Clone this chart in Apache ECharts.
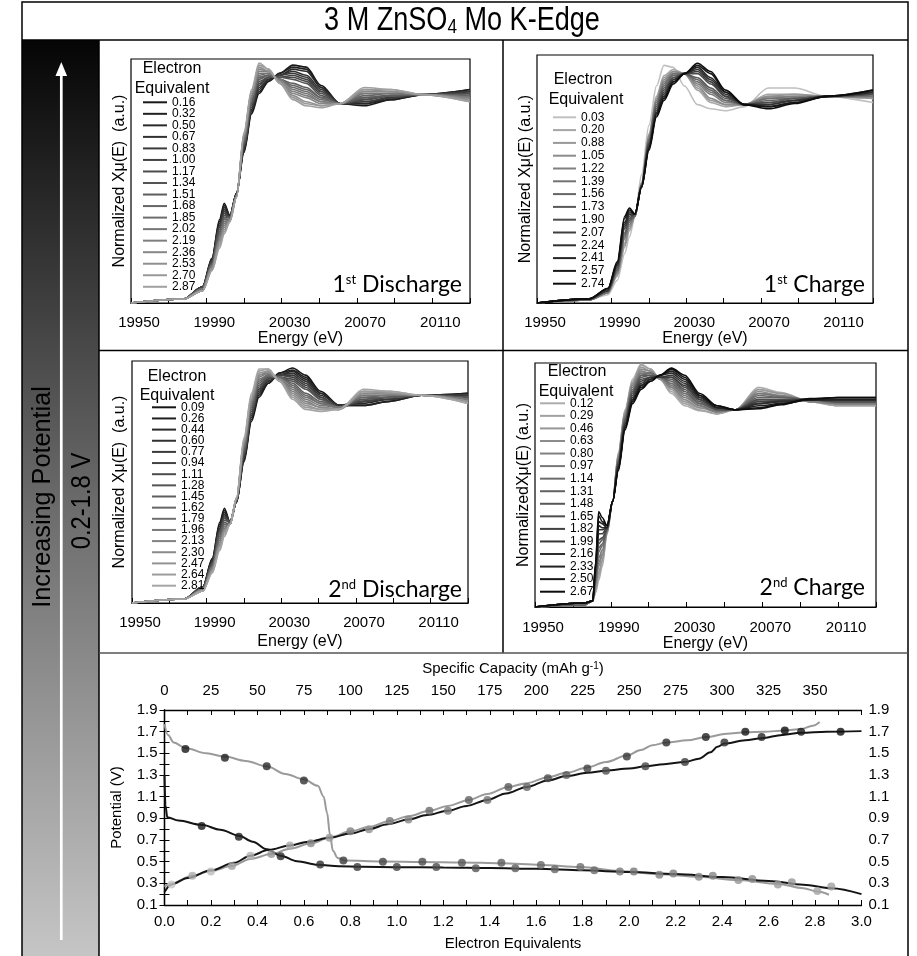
<!DOCTYPE html>
<html>
<head>
<meta charset="utf-8">
<title>3 M ZnSO4 Mo K-Edge</title>
<script src="https://cdn.jsdelivr.net/npm/echarts@6/dist/echarts.min.js"></script>
<style>
html,body{margin:0;padding:0;background:#fff;}
#main{width:917px;height:956px;}
</style>
</head>
<body>
<div id="main"></div>
<script>
// ---- XANES spectra (normalized absorption) ----
var energyA = [19950, 19978, 19988, 19993, 19997, 19999.5, 20002.5, 20006, 20010, 20014, 20018, 20023, 20029, 20036, 20043, 20051, 20061, 20074, 20088, 20105, 20130];
var energyB = [19950, 19976, 19980.5, 19982, 19983.6, 19985.5, 19988, 19991, 19994, 19997.5, 20001.5, 20006, 20011, 20016, 20022, 20029, 20037, 20046, 20056, 20068, 20080, 20095, 20110, 20130];

// 1st discharge
var dis1Labels = ['0.16','0.32','0.50','0.67','0.83','1.00','1.17','1.34','1.51','1.68','1.85','2.02','2.19','2.36','2.53','2.70','2.87'];
var dis1Spectra = [
  [0,.02,.08,.22,.41,.49,.43,.54,.74,.93,1.03,1.09,1.13,1.17,1.16,1.07,.98,.97,1.00,1.025,1.05],
  [0,.02,.08,.22,.40,.48,.43,.54,.75,.94,1.04,1.09,1.13,1.16,1.15,1.06,.98,.98,1.00,1.025,1.05],
  [0,.02,.08,.21,.39,.47,.43,.54,.75,.95,1.05,1.10,1.12,1.15,1.14,1.06,.98,.98,1.01,1.025,1.04],
  [0,.02,.08,.21,.38,.46,.42,.54,.76,.95,1.06,1.10,1.12,1.14,1.12,1.05,.98,.99,1.01,1.025,1.04],
  [0,.02,.08,.21,.38,.45,.42,.53,.77,.96,1.07,1.11,1.12,1.13,1.11,1.04,.98,.99,1.01,1.025,1.04],
  [0,.02,.08,.20,.37,.44,.42,.53,.77,.97,1.08,1.11,1.11,1.12,1.10,1.04,.98,1.00,1.02,1.025,1.03],
  [0,.02,.07,.20,.36,.43,.42,.53,.78,.98,1.09,1.11,1.11,1.11,1.09,1.03,.98,1.00,1.02,1.025,1.03],
  [0,.02,.07,.19,.35,.42,.42,.53,.78,.98,1.10,1.12,1.11,1.10,1.08,1.02,.98,1.01,1.02,1.025,1.02],
  [0,.02,.07,.19,.34,.42,.42,.53,.79,.99,1.11,1.12,1.10,1.08,1.06,1.01,.98,1.01,1.02,1.025,1.02],
  [0,.02,.07,.19,.33,.41,.41,.53,.80,1.00,1.11,1.12,1.10,1.07,1.05,1.01,.98,1.02,1.03,1.025,1.02],
  [0,.02,.07,.18,.32,.40,.41,.53,.80,1.01,1.12,1.13,1.10,1.06,1.04,1.00,.98,1.03,1.03,1.025,1.01],
  [0,.02,.07,.18,.31,.39,.41,.53,.81,1.01,1.13,1.13,1.10,1.05,1.03,.99,.98,1.03,1.03,1.025,1.01],
  [0,.02,.06,.18,.31,.38,.41,.52,.82,1.02,1.14,1.14,1.09,1.04,1.02,.99,.98,1.04,1.04,1.025,1.01],
  [0,.02,.06,.17,.30,.37,.41,.52,.82,1.03,1.15,1.14,1.09,1.03,1.01,.98,.98,1.04,1.04,1.025,1.00],
  [0,.02,.06,.17,.29,.36,.40,.52,.83,1.04,1.16,1.14,1.09,1.02,.99,.97,.98,1.05,1.04,1.025,1.00],
  [0,.02,.06,.16,.28,.35,.40,.52,.83,1.04,1.17,1.15,1.08,1.01,.98,.97,.98,1.05,1.05,1.025,.99],
  [0,.02,.06,.16,.27,.34,.40,.52,.84,1.05,1.18,1.15,1.08,1.00,.97,.96,.98,1.06,1.05,1.025,.99]
];

// 1st charge
var chg1Labels = ['0.03','0.20','0.88','1.05','1.22','1.39','1.56','1.73','1.90','2.07','2.24','2.41','2.57','2.74'];
var chg1Spectra = [
  [0,.015,.04,.11,.24,.32,.42,.62,.86,1.05,1.15,1.14,1.05,.96,.94,.93,.95,1.04,1.04,1.00,.97],
  [0,.015,.05,.13,.27,.35,.42,.58,.82,1.00,1.10,1.13,1.11,1.03,.97,.95,.96,1.01,1.01,1.00,.99],
  [0,.015,.05,.14,.28,.36,.42,.58,.81,.99,1.09,1.12,1.11,1.04,.98,.96,.96,1.00,1.01,1.00,.99],
  [0,.015,.05,.14,.29,.37,.42,.58,.81,.98,1.08,1.12,1.11,1.05,.99,.96,.96,1.00,1.00,1.00,1.00],
  [0,.015,.05,.15,.31,.38,.42,.57,.80,.98,1.07,1.11,1.11,1.06,1.01,.97,.96,.99,1.00,1.00,1.00],
  [0,.015,.05,.15,.32,.39,.42,.57,.79,.97,1.06,1.11,1.11,1.07,1.02,.98,.96,.99,.99,1.00,1.00],
  [0,.015,.06,.16,.33,.40,.42,.57,.79,.96,1.05,1.10,1.11,1.08,1.03,.98,.96,.98,.99,1.00,1.01],
  [0,.02,.06,.16,.34,.40,.43,.57,.78,.95,1.04,1.09,1.11,1.09,1.04,.99,.96,.97,.99,1.00,1.01],
  [0,.02,.06,.17,.36,.41,.43,.57,.77,.94,1.03,1.09,1.11,1.11,1.06,1.00,.96,.97,.98,1.00,1.01],
  [0,.02,.06,.18,.37,.42,.43,.57,.77,.93,1.02,1.08,1.11,1.12,1.07,1.00,.96,.96,.98,1.00,1.02],
  [0,.02,.06,.18,.38,.43,.43,.56,.76,.92,1.01,1.08,1.11,1.13,1.08,1.01,.96,.96,.98,1.00,1.02],
  [0,.02,.07,.19,.39,.44,.43,.56,.75,.92,1.00,1.07,1.11,1.14,1.09,1.02,.96,.95,.97,1.00,1.02],
  [0,.02,.07,.19,.41,.45,.43,.56,.75,.91,.99,1.07,1.11,1.15,1.11,1.02,.96,.95,.97,1.00,1.03],
  [0,.02,.07,.20,.42,.46,.43,.56,.74,.90,.98,1.06,1.11,1.16,1.12,1.03,.96,.94,.965,1.00,1.03]
];

// 2nd discharge
var dis2Labels = ['0.09','0.26','0.44','0.60','0.77','0.94','1.11','1.28','1.45','1.62','1.79','1.96','2.13','2.30','2.47','2.64','2.81'];
var dis2Spectra = [
  [0,.02,.08,.22,.40,.47,.40,.50,.70,.90,1.02,1.09,1.14,1.165,1.13,1.05,.98,.98,1.00,1.03,1.04],
  [0,.02,.08,.22,.39,.46,.40,.50,.71,.91,1.03,1.09,1.14,1.155,1.12,1.04,.98,.98,1.00,1.03,1.04],
  [0,.02,.08,.21,.38,.45,.40,.50,.71,.92,1.04,1.10,1.13,1.15,1.11,1.04,.98,.99,1.01,1.03,1.03],
  [0,.02,.08,.21,.37,.44,.40,.50,.72,.93,1.05,1.10,1.13,1.14,1.10,1.03,.98,1.00,1.01,1.03,1.03],
  [0,.02,.08,.20,.36,.43,.40,.51,.73,.93,1.06,1.11,1.13,1.13,1.09,1.02,.97,1.00,1.01,1.03,1.03],
  [0,.02,.08,.20,.36,.43,.40,.51,.74,.94,1.06,1.11,1.13,1.12,1.08,1.02,.97,1.00,1.02,1.03,1.02],
  [0,.02,.07,.19,.35,.42,.40,.51,.74,.95,1.07,1.12,1.12,1.11,1.07,1.01,.97,1.01,1.02,1.03,1.02],
  [0,.02,.07,.19,.34,.41,.40,.51,.75,.96,1.08,1.12,1.12,1.10,1.06,1.01,.97,1.01,1.02,1.03,1.02],
  [0,.02,.07,.18,.33,.40,.39,.51,.76,.97,1.09,1.13,1.12,1.09,1.04,1.00,.97,1.02,1.02,1.03,1.01],
  [0,.02,.07,.18,.32,.39,.39,.51,.77,.98,1.10,1.13,1.12,1.08,1.03,.99,.97,1.02,1.03,1.03,1.01],
  [0,.02,.07,.18,.31,.38,.39,.51,.77,.99,1.11,1.13,1.11,1.07,1.02,.99,.97,1.03,1.03,1.03,1.01],
  [0,.02,.07,.17,.30,.37,.39,.51,.78,1.00,1.12,1.14,1.11,1.06,1.01,.98,.97,1.03,1.03,1.03,1.01],
  [0,.02,.06,.17,.29,.36,.39,.52,.79,1.00,1.13,1.14,1.11,1.05,1.00,.97,.96,1.04,1.04,1.03,1.00],
  [0,.02,.06,.16,.29,.36,.39,.52,.80,1.01,1.13,1.15,1.11,1.04,.99,.97,.96,1.04,1.04,1.03,1.00],
  [0,.02,.06,.16,.28,.35,.39,.52,.80,1.02,1.14,1.15,1.10,1.03,.98,.96,.96,1.05,1.04,1.03,1.00],
  [0,.02,.06,.15,.27,.34,.39,.52,.81,1.03,1.15,1.16,1.10,1.02,.97,.96,.96,1.05,1.05,1.03,.99],
  [0,.02,.06,.15,.26,.33,.39,.52,.82,1.04,1.16,1.16,1.10,1.01,.96,.95,.96,1.06,1.05,1.03,.99]
];

// 2nd charge
var chg2Labels = ['0.12','0.29','0.46','0.63','0.80','0.97','1.14','1.31','1.48','1.65','1.82','1.99','2.16','2.33','2.50','2.67'];
var chg2Spectra = [
  [0,.01,.03,.07,.13,.20,.36,.52,.76,.97,1.12,1.195,1.17,1.12,1.05,.99,.965,.95,.97,1.08,1.055,1.01,.99,.99],
  [0,.01,.03,.08,.15,.22,.36,.52,.75,.96,1.11,1.19,1.17,1.12,1.06,1.00,.97,.95,.97,1.07,1.05,1.01,.99,.99],
  [0,.01,.03,.09,.17,.23,.37,.52,.75,.96,1.10,1.18,1.16,1.12,1.07,1.01,.98,.96,.97,1.07,1.05,1.01,1.00,1.00],
  [0,.01,.03,.10,.20,.25,.37,.52,.74,.95,1.10,1.17,1.16,1.12,1.08,1.02,.98,.96,.97,1.06,1.04,1.01,1.00,1.00],
  [0,.01,.03,.11,.22,.26,.37,.52,.74,.94,1.09,1.16,1.15,1.13,1.08,1.03,.99,.96,.97,1.05,1.04,1.01,1.00,1.00],
  [0,.01,.03,.12,.24,.28,.37,.52,.73,.94,1.08,1.15,1.15,1.13,1.09,1.04,.99,.96,.97,1.05,1.035,1.02,1.00,1.00],
  [0,.01,.03,.13,.27,.30,.38,.52,.72,.93,1.07,1.14,1.15,1.13,1.10,1.05,1.00,.97,.97,1.04,1.03,1.02,1.01,1.01],
  [0,.01,.03,.14,.29,.31,.38,.52,.72,.92,1.06,1.14,1.14,1.13,1.11,1.06,1.00,.97,.97,1.03,1.03,1.02,1.01,1.01],
  [0,.02,.03,.15,.31,.33,.38,.52,.71,.92,1.06,1.13,1.14,1.13,1.12,1.07,1.01,.97,.97,1.02,1.02,1.02,1.01,1.01],
  [0,.02,.03,.16,.33,.34,.38,.52,.71,.91,1.05,1.12,1.13,1.13,1.13,1.08,1.02,.97,.97,1.02,1.02,1.02,1.01,1.01],
  [0,.02,.03,.17,.36,.36,.39,.52,.70,.90,1.04,1.11,1.13,1.13,1.13,1.09,1.02,.98,.97,1.01,1.015,1.02,1.02,1.02],
  [0,.02,.03,.18,.38,.38,.39,.52,.69,.90,1.03,1.10,1.13,1.13,1.14,1.10,1.03,.98,.97,1.00,1.01,1.02,1.02,1.02],
  [0,.02,.03,.19,.40,.39,.39,.52,.69,.89,1.02,1.09,1.12,1.14,1.15,1.11,1.03,.98,.97,1.00,1.01,1.02,1.02,1.02],
  [0,.02,.03,.20,.42,.41,.39,.52,.68,.88,1.02,1.09,1.12,1.14,1.16,1.12,1.04,.98,.97,.99,1.00,1.02,1.02,1.02],
  [0,.02,.03,.21,.45,.42,.40,.52,.68,.88,1.01,1.08,1.11,1.14,1.17,1.13,1.04,.99,.97,.98,1.00,1.02,1.03,1.03],
  [0,.02,.03,.22,.47,.44,.40,.52,.67,.87,1.00,1.07,1.11,1.14,1.175,1.14,1.05,.99,.97,.975,.995,1.025,1.03,1.03]
];

// ---- potential profiles: [electron equivalents, potential V] ----
var dis1Curve = [[0,1.30],[0.004,1.02],[0.012,0.91],[0.06,0.88],[0.16,0.84],[0.24,0.795],[0.32,0.74],[0.38,0.685],[0.44,0.615],[0.50,0.555],[0.57,0.505],[0.66,0.472],[0.75,0.458],[0.85,0.452],[1.0,0.449],[1.2,0.446],[1.4,0.441],[1.6,0.434],[1.8,0.42],[2.0,0.405],[2.2,0.386],[2.4,0.358],[2.6,0.322],[2.75,0.287],[2.87,0.255],[3.0,0.20]];
var dis2Curve = [[0,1.77],[0.015,1.67],[0.04,1.60],[0.09,1.55],[0.18,1.50],[0.26,1.47],[0.35,1.43],[0.44,1.38],[0.52,1.31],[0.60,1.26],[0.66,1.20],[0.685,1.10],[0.70,0.95],[0.712,0.75],[0.725,0.60],[0.745,0.535],[0.775,0.51],[0.94,0.502],[1.11,0.498],[1.28,0.493],[1.45,0.485],[1.62,0.47],[1.79,0.45],[1.96,0.415],[2.13,0.385],[2.30,0.36],[2.47,0.33],[2.64,0.295],[2.75,0.255],[2.81,0.225],[2.86,0.195]];
var chg1Curve = [[0,0.22],[0.03,0.29],[0.1,0.35],[0.2,0.42],[0.3,0.49],[0.37,0.555],[0.45,0.61],[0.54,0.65],[0.62,0.685],[0.71,0.72],[0.8,0.76],[0.88,0.80],[0.96,0.845],[1.05,0.89],[1.13,0.93],[1.22,0.97],[1.3,1.015],[1.39,1.07],[1.47,1.13],[1.56,1.19],[1.65,1.25],[1.73,1.29],[1.82,1.32],[1.90,1.34],[2.0,1.36],[2.07,1.38],[2.15,1.40],[2.24,1.42],[2.30,1.45],[2.35,1.51],[2.38,1.56],[2.41,1.59],[2.5,1.62],[2.57,1.64],[2.66,1.67],[2.74,1.69],[2.85,1.70],[3.0,1.705]];
var chg2Curve = [[0,0.27],[0.03,0.30],[0.12,0.37],[0.2,0.415],[0.29,0.46],[0.37,0.525],[0.46,0.57],[0.54,0.62],[0.63,0.67],[0.72,0.73],[0.80,0.78],[0.88,0.82],[0.97,0.875],[1.05,0.92],[1.14,0.97],[1.22,1.015],[1.31,1.07],[1.39,1.125],[1.48,1.19],[1.56,1.225],[1.65,1.28],[1.73,1.32],[1.82,1.37],[1.90,1.42],[1.99,1.48],[2.05,1.53],[2.10,1.575],[2.16,1.60],[2.25,1.62],[2.33,1.65],[2.42,1.68],[2.50,1.695],[2.58,1.70],[2.67,1.71],[2.74,1.725],[2.79,1.755],[2.82,1.79]];

// sampled points (where each spectrum was taken)
var dis1MarkV = [0.83,0.73,0.55,0.475,0.45,0.45,0.45,0.44,0.44,0.43,0.42,0.41,0.39,0.37,0.34,0.31,0.27];
var dis2MarkV = [1.54,1.46,1.38,1.25,0.51,0.50,0.50,0.49,0.49,0.47,0.45,0.41,0.38,0.36,0.33,0.29,0.23];
var chg1MarkX = [0.03,0.20,0.37,0.54,0.71,0.88,1.05,1.22,1.39,1.56,1.73,1.90,2.07,2.24,2.41,2.57,2.74,2.91];
var chg1MarkV = [0.29,0.41,0.555,0.65,0.72,0.80,0.89,0.97,1.07,1.19,1.30,1.34,1.38,1.42,1.60,1.65,1.70,1.70];
var chg2MarkV = [0.37,0.46,0.57,0.67,0.78,0.875,0.97,1.07,1.19,1.27,1.36,1.47,1.60,1.65,1.70,1.71];

var FONT = 'Liberation Sans, Arial, sans-serif';

function ramp(n, from, to) {
  var out = [];
  for (var i = 0; i < n; i++) {
    var v = Math.round(from + (to - from) * (n === 1 ? 0 : i / (n - 1)));
    out.push('rgb(' + v + ',' + v + ',' + v + ')');
  }
  return out;
}
var shadeD1 = ramp(17, 25, 160);
var shadeC1 = ['rgb(192,192,192)'].concat(ramp(13, 165, 12));
var shadeD2 = ramp(17, 22, 165);
var shadeC2 = ramp(16, 172, 12);
var shadeC1Mark = ramp(18, 200, 15);

var series = [];
var legends = [];

function addPanel(gi, tag, energies, labels, spectra, shades, lg) {
  labels.forEach(function (lab, i) {
    var c = shades[i];
    series.push({
      name: tag + ' ' + lab,
      type: 'line',
      xAxisIndex: gi, yAxisIndex: gi,
      data: energies.map(function (e, j) { return [e, spectra[i][j]]; }),
      showSymbol: false, symbol: 'none',
      smooth: 0.3, smoothMonotone: 'x',
      lineStyle: {color: c, width: 1.6},
      itemStyle: {color: c},
      silent: true, z: 3
    });
  });
  // legend rows are 12px high; a negative gap packs them to the measured pitch
  legends.push({
    orient: 'vertical', left: lg.left, top: lg.first - 6,
    padding: 0, itemGap: lg.gap - 12, itemWidth: lg.w, itemHeight: 2, icon: 'rect',
    selectedMode: false,
    data: labels.map(function (l) { return tag + ' ' + l; }),
    formatter: function (n) { return n.split(' ')[1]; },
    textStyle: {fontSize: 12, fontFamily: FONT, color: '#000', lineHeight: 12}
  });
}

addPanel(0, 'd1', energyA, dis1Labels, dis1Spectra, shadeD1, {left: 143, first: 102.3, gap: 11.53, w: 24});
addPanel(1, 'c1', energyA, chg1Labels, chg1Spectra, shadeC1, {left: 553, first: 117.3, gap: 12.8, w: 23});
addPanel(2, 'd2', energyA, dis2Labels, dis2Spectra, shadeD2, {left: 152, first: 407.3, gap: 11.15, w: 24});
addPanel(3, 'c2', energyB, chg2Labels, chg2Spectra, shadeC2, {left: 540, first: 403.3, gap: 12.56, w: 25});

function xanesX(gi, margin, nameGap) {
  return {
    type: 'value', gridIndex: gi, min: 19950, max: 20130, interval: 20,
    name: 'Energy (eV)', nameLocation: 'middle', nameGap: nameGap,
    nameTextStyle: {fontSize: 16, color: '#000', fontFamily: FONT},
    axisLine: {show: true, lineStyle: {color: '#000', width: 1.2}},
    axisTick: {show: true, inside: true, length: 5, lineStyle: {color: '#000', width: 1}},
    axisLabel: {
      fontSize: 15, color: '#000', fontFamily: FONT, margin: margin, padding: [0, 0, 0, 16],
      formatter: function (v) { var r = Math.round(v); return (r - 19950) % 40 === 0 ? String(r) : ''; }
    },
    splitLine: {show: false}
  };
}
function xanesY(gi, name, gap) {
  return {
    type: 'value', gridIndex: gi, min: 0, max: 1.2,
    name: name, nameLocation: 'middle', nameGap: gap,
    nameTextStyle: {fontSize: 16, color: '#000', fontFamily: FONT},
    axisLine: {show: false}, axisTick: {show: false}, axisLabel: {show: false}, splitLine: {show: false}
  };
}

// ---- potential vs electron equivalents ----
var blk = '#141414', gry = '#9a9a9a';
function lineSeries(data, color) {
  return {type: 'line', xAxisIndex: 4, yAxisIndex: 4, data: data, showSymbol: false, symbol: 'none',
    smooth: 0.35, smoothMonotone: 'x', lineStyle: {color: color, width: 2}, silent: true, z: 3};
}
function markSeries(xs, vs, shades) {
  return {type: 'scatter', xAxisIndex: 4, yAxisIndex: 4, symbol: 'circle', symbolSize: 8, silent: true, z: 5,
    data: xs.map(function (x, i) { return {value: [x, vs[i]], itemStyle: {color: shades[i]}}; })};
}
series.push(lineSeries(dis2Curve, gry));
series.push(lineSeries(chg2Curve, gry));
series.push(lineSeries(dis1Curve, blk));
series.push(lineSeries(chg1Curve, blk));
series.push(markSeries(dis1Labels.map(Number), dis1MarkV, shadeD1));
series.push(markSeries(dis2Labels.map(Number), dis2MarkV, shadeD2));
series.push(markSeries(chg1MarkX, chg1MarkV, shadeC1Mark));
series.push(markSeries(chg2Labels.map(Number), chg2MarkV, shadeC2));

var tickStyle = {show: true, inside: true, length: 5, lineStyle: {color: '#000', width: 1}};
var minorStyle = {show: true, splitNumber: 2, length: 5, lineStyle: {color: '#000', width: 1}};
var axLine = {show: true, lineStyle: {color: '#000', width: 1.3}};

function panelLabel(x, y, num, sup, word) {
  return {
    type: 'text', x: x, y: y, z: 20,
    style: {
      text: '{a|' + num + '}{s|' + sup + '}{a| ' + word + '}',
      align: 'right', verticalAlign: 'middle',
      rich: {
        a: {fontSize: 23, fontFamily: 'Lato, Open Sans, sans-serif', color: '#000'},
        s: {fontSize: 13, fontFamily: 'Lato, Open Sans, sans-serif', color: '#000', verticalAlign: 'top'}
      }
    }
  };
}
function plainText(x, y, txt, size, extra) {
  var el = {type: 'text', x: x, y: y, z: 20,
    style: {text: txt, fontSize: size, fontFamily: FONT, fill: '#000', align: 'center', verticalAlign: 'middle'}};
  if (extra) { for (var k in extra) el[k] = extra[k]; }
  return el;
}
function hline(x1, x2, y, color) {
  return {type: 'line', z: 10, shape: {x1: x1, y1: y, x2: x2, y2: y}, style: {stroke: color || '#000', lineWidth: 1.5}};
}
function vline(x, y1, y2, color) {
  return {type: 'line', z: 10, shape: {x1: x, y1: y1, x2: x, y2: y2}, style: {stroke: color || '#000', lineWidth: 1.5}};
}

var option = {
  animation: false,
  backgroundColor: '#fff',
  textStyle: {fontFamily: FONT},
  grid: [
    {left: 131, top: 59, width: 339, height: 244, show: true, borderColor: '#000', borderWidth: 1.2, backgroundColor: 'transparent'},
    {left: 537, top: 55, width: 336, height: 248, show: true, borderColor: '#000', borderWidth: 1.2, backgroundColor: 'transparent'},
    {left: 132, top: 361, width: 336, height: 242, show: true, borderColor: '#000', borderWidth: 1.2, backgroundColor: 'transparent'},
    {left: 535, top: 363, width: 341, height: 244, show: true, borderColor: '#000', borderWidth: 1.2, backgroundColor: 'transparent'},
    {left: 164.5, top: 710, width: 697, height: 195}
  ],
  xAxis: [
    xanesX(0, 12, 28),
    xanesX(1, 12, 28),
    xanesX(2, 12, 31),
    xanesX(3, 13, 24),
    {type: 'value', gridIndex: 4, position: 'bottom', min: 0, max: 3, interval: 0.2,
      name: 'Electron Equivalents', nameLocation: 'middle', nameGap: 31,
      nameTextStyle: {fontSize: 15, color: '#000', fontFamily: FONT},
      axisLine: axLine, axisTick: tickStyle, minorTick: minorStyle, splitLine: {show: false},
      axisLabel: {fontSize: 15, color: '#000', fontFamily: FONT, margin: 9, formatter: function (v) { return v.toFixed(1); }}},
    {type: 'value', gridIndex: 4, position: 'top', min: 0, max: 375, interval: 25,
      name: '{a|Specific Capacity (mAh g}{s|-1}{a|)}', nameLocation: 'middle', nameGap: 34,
      nameTextStyle: {rich: {a: {fontSize: 15, color: '#000', fontFamily: FONT}, s: {fontSize: 10, color: '#000', fontFamily: FONT, verticalAlign: 'top'}}},
      axisLine: axLine, axisTick: tickStyle, minorTick: minorStyle, splitLine: {show: false},
      axisLabel: {fontSize: 15, color: '#000', fontFamily: FONT, margin: 12, formatter: function (v) { return v >= 375 ? '' : String(v); }}}
  ],
  yAxis: [
    xanesY(0, 'Normalized X\u03bc(E)  (a.u.)', 3),
    xanesY(1, 'Normalized X\u03bc(E) (a.u.)', 3),
    xanesY(2, 'Normalized X\u03bc(E)  (a.u.)', 4),
    xanesY(3, 'NormalizedX\u03bc(E) (a.u.)', 3),
    {type: 'value', gridIndex: 4, position: 'left', min: 0.1, max: 1.9, interval: 0.2,
      name: 'Potential (V)', nameLocation: 'middle', nameGap: 40,
      nameTextStyle: {fontSize: 15, color: '#000', fontFamily: FONT},
      axisLine: axLine, axisTick: tickStyle, minorTick: minorStyle, splitLine: {show: false},
      axisLabel: {fontSize: 15, color: '#000', fontFamily: FONT, margin: 7, formatter: function (v) { return v.toFixed(1); }}},
    {type: 'value', gridIndex: 4, position: 'right', min: 0.1, max: 1.9, interval: 0.2,
      axisLine: axLine, axisTick: tickStyle, minorTick: minorStyle, splitLine: {show: false},
      axisLabel: {fontSize: 15, color: '#000', fontFamily: FONT, margin: 7, formatter: function (v) { return v.toFixed(1); }}}
  ],
  legend: legends,
  series: series,
  graphic: [
    // left bar with gradient
    {type: 'rect', z: 1, shape: {x: 22, y: 40, width: 77, height: 920},
      style: {fill: new echarts.graphic.LinearGradient(0, 0, 0, 1, [
        {offset: 0, color: '#050505'}, {offset: 0.5, color: '#6a6a6a'}, {offset: 1, color: '#c6c6c6'}])}},
    // frame and dividers
    {type: 'rect', z: 10, shape: {x: 22, y: 2, width: 886, height: 960}, style: {fill: 'none', stroke: '#000', lineWidth: 1.5}},
    hline(22, 908, 40),
    vline(99, 40, 960),
    vline(503, 40, 653),
    hline(99, 908, 350.5),
    hline(99, 908, 653, '#555'),
    // arrow
    {type: 'line', z: 11, shape: {x1: 61.3, y1: 940, x2: 61.3, y2: 74}, style: {stroke: '#fff', lineWidth: 2.7}},
    {type: 'polygon', z: 11, shape: {points: [[61.3, 62], [55.5, 76], [67.1, 76]]}, style: {fill: '#fff'}},
    plainText(43, 497, 'Increasing Potential', 26, {rotation: Math.PI / 2, scaleX: 0.97}),
    plainText(82, 501, '0.2-1.8 V', 28, {rotation: Math.PI / 2, scaleX: 0.85}),
    // title
    {type: 'text', x: 462, y: 21, z: 20, scaleX: 0.82,
      style: {text: '{a|3 M ZnSO}{b|4}{a| Mo K-Edge}', align: 'center', verticalAlign: 'middle',
        rich: {a: {fontSize: 33, fontFamily: FONT, color: '#000'}, b: {fontSize: 21, fontFamily: FONT, color: '#000', verticalAlign: 'bottom'}}}},
    // legend headings
    plainText(172, 69, 'Electron', 16), plainText(172, 89, 'Equivalent', 16),
    plainText(583, 80, 'Electron', 16), plainText(586, 100, 'Equivalent', 16),
    plainText(177, 377, 'Electron', 16), plainText(177, 396, 'Equivalent', 16),
    plainText(577, 372, 'Electron', 16), plainText(576, 392, 'Equivalent', 16),
    // panel captions
    panelLabel(462, 285, '1', 'st', 'Discharge'),
    panelLabel(865, 285, '1', 'st', 'Charge'),
    panelLabel(462, 590, '2', 'nd', 'Discharge'),
    panelLabel(865, 588, '2', 'nd', 'Charge')
  ]
};

var chart = echarts.init(document.getElementById('main'));
chart.setOption(option);
</script>
</body>
</html>
